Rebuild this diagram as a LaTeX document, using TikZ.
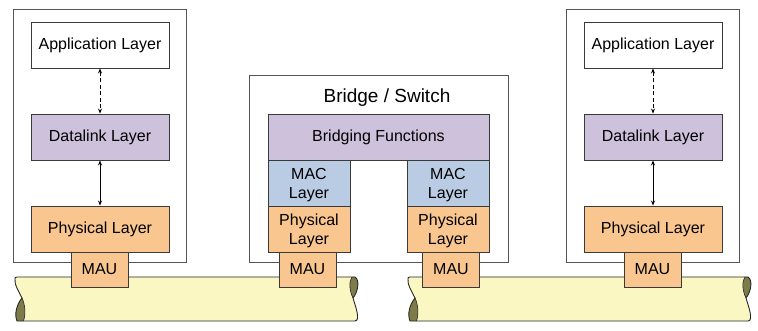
\documentclass[tikz,border=0pt]{standalone}
\usepackage{fontspec}
\setmainfont{Liberation Sans}
\usetikzlibrary{arrows.meta}
\definecolor{physfill}{HTML}{F9C68F}
\definecolor{dlfill}{HTML}{CDC1DB}
\definecolor{macfill}{HTML}{BACCE4}
\definecolor{cablefill}{HTML}{FBF7C3}
\definecolor{cabletwist}{HTML}{7D7B4A}
\definecolor{boxline}{HTML}{3A3A3A}
\definecolor{hostline}{HTML}{555555}
\begin{document}
\begin{tikzpicture}[x=1pt,y=-1pt,
  >={Stealth[length=5pt,width=4pt]},
  hostbox/.style={draw=hostline, line width=1pt, inner sep=0pt, minimum width=173pt, minimum height=253pt},
  layerbox/.style={draw=boxline, line width=0.9pt, inner sep=0pt, minimum height=46pt,
    font=\fontsize{16}{19}\selectfont, align=center},
  appbox/.style={layerbox, fill=white, minimum width=138pt},
  dlbox/.style={layerbox, fill=dlfill, minimum width=138pt},
  physbox/.style={layerbox, fill=physfill, minimum width=138pt},
  twoline/.style={layerbox, minimum width=82pt, text depth=0pt},
  macbox/.style={twoline, fill=macfill},
  bphysbox/.style={twoline, fill=physfill},
  maubox/.style={layerbox, fill=physfill, minimum width=57pt, minimum height=35pt},
  link/.style={<->, line width=0.8pt, black},
  softlink/.style={link, dashed, dash pattern=on 4pt off 2.5pt},
  cableedge/.style={draw=black!85, line width=0.9pt}
]
\useasboundingbox (0,0) rectangle (758,331);

% end-station and bridge enclosures
\node[hostbox] (hostL) at (99.5,136.5) {};
\node[hostbox] (hostR) at (652.5,136.5) {};
\node[hostbox, minimum width=259pt, minimum height=187pt] (bridge) at (378.5,169.5) {};
\node[font=\fontsize{19}{22}\selectfont] (btitle) at (387,98) {Bridge / Switch};

% the two cable segments (twisted-ribbon ends)
\foreach \s in {0,393}{
  \begin{scope}[xshift=\s pt]
    \fill[cablefill]
      (17,321) .. controls (14,314) and (17,304) .. (22,298)
      .. controls (19,292) and (14,284) .. (15,279)
      .. controls (15,277.5) .. (17,277)
      -- (355,277)
      .. controls (360,280) and (358,292) .. (353,298)
      .. controls (355,305) and (359,315) .. (357,320)
      .. controls (356.5,321) .. (355,321)
      -- cycle;
    \fill[cabletwist]
      (22,298) .. controls (17,304) and (14,314) .. (17,321)
      -- (23.5,321) .. controls (26,314) and (25,304) .. (22,298) -- cycle;
    \fill[cabletwist]
      (353,298) .. controls (349,290) and (349,281) .. (352,277)
      -- (355,277) .. controls (360,280) and (358,292) .. (353,298) -- cycle;
    \draw[cableedge]
      (17,321) .. controls (14,314) and (17,304) .. (22,298)
      .. controls (19,292) and (14,284) .. (15,279)
      .. controls (15,277.5) .. (17,277)
      -- (355,277)
      .. controls (360,280) and (358,292) .. (353,298)
      .. controls (355,305) and (359,315) .. (357,320)
      .. controls (356.5,321) .. (355,321)
      -- cycle;
    \draw[cableedge, line width=0.6pt]
      (22,298) .. controls (25,304) and (26,314) .. (23.5,321);
    \draw[cableedge, line width=0.6pt]
      (353,298) .. controls (349,290) and (349,281) .. (352,277);
  \end{scope}
}

% left end station
\node[appbox]  (appL)  at (100,45)  {Application Layer};
\node[dlbox]   (dlL)   at (100,137) {Datalink Layer};
\node[physbox] (physL) at (100,229) {Physical Layer};
\node[maubox]  (mauL)  at (99.5,269.5) {MAU};
\draw[softlink] (appL) -- (dlL);
\draw[link] (dlL) -- (physL);

% right end station
\node[appbox]  (appR)  at (653,45)  {Application Layer};
\node[dlbox]   (dlR)   at (653,137) {Datalink Layer};
\node[physbox] (physR) at (653,229) {Physical Layer};
\node[maubox]  (mauR)  at (652.5,269.5) {MAU};
\draw[softlink] (appR) -- (dlR);
\draw[link] (dlR) -- (physR);

% bridge internals
\node[layerbox, fill=dlfill, minimum width=221pt] (bfun) at (378.5,137) {Bridging Functions};
\node[macbox]   (macA)  at (309,183) {MAC\\Layer};
\node[bphysbox] (physA) at (309,229) {Physical\\Layer};
\node[macbox]   (macB)  at (448,183) {MAC\\Layer};
\node[bphysbox] (physB) at (448,229) {Physical\\Layer};
\node[maubox]   (mauA)  at (307.5,269.5) {MAU};
\node[maubox]   (mauB)  at (451,269.5) {MAU};
\end{tikzpicture}
\end{document}
